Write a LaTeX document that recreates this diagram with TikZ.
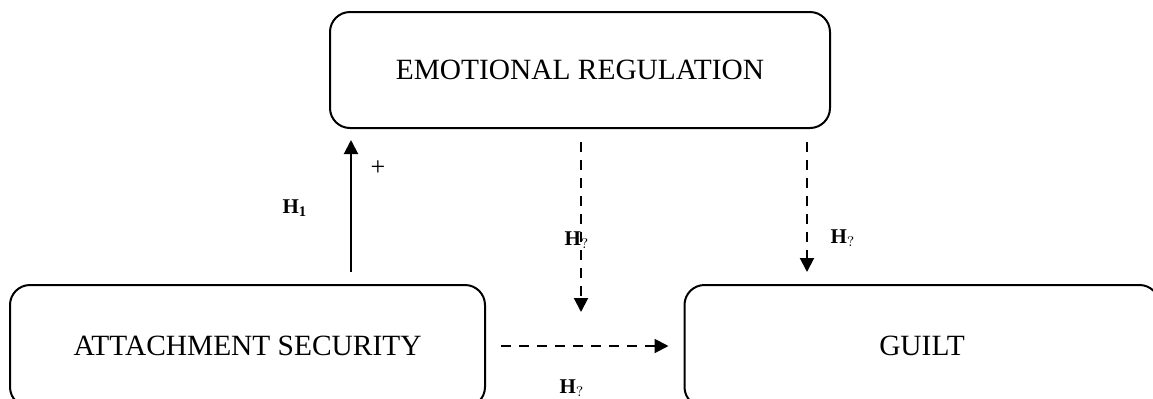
\documentclass[tikz,border=0pt]{standalone}
\usepackage{fontspec}
\setmainfont{Liberation Serif}
\usetikzlibrary{positioning,calc,arrows.meta}
\tikzset{
  modelBox/.style={
    rectangle,
    rounded corners=10pt,
    draw=black,
    line width=1pt,
    font=\fontsize{14.7}{17}\selectfont,
    align=center
  },
  solidArrow/.style={
    -{Triangle[length=7pt,width=7pt]},
    line width=1pt
  },
  dashedArrow/.style={
    -{Triangle[length=7pt,width=7pt]},
    line width=1pt,
    dash pattern=on 5pt off 4pt
  },
  hypLabel/.style={
    font=\fontsize{10.5}{12}\selectfont\bfseries
  }
}

\begin{document}
\begin{tikzpicture}[x=0.5pt,y=-0.5pt]
        \useasboundingbox (0,0) rectangle (1153,398);
        \node[modelBox, minimum width=250pt, minimum height=58pt] (emoreg) at (580,70) {EMOTIONAL REGULATION};
        \node[modelBox, minimum width=237.5pt, minimum height=61pt] (attach) at (247.5,346) {ATTACHMENT SECURITY};
        \node[modelBox, minimum width=237.5pt, minimum height=61pt] (guilt) at (922,346) {GUILT};

        % free ends of the arrows
        \coordinate (upStart) at (351,272);
        \coordinate (upEnd) at (351,140);
        \coordinate (midStart) at (581,142);
        \coordinate (midEnd) at (581,312);
        \coordinate (rightStart) at (807,142);
        \coordinate (rightEnd) at (807,272);

        \draw[solidArrow] (upStart) -- (upEnd);
        \draw[dashedArrow] (midStart) -- (midEnd);
        \draw[dashedArrow] (rightStart) -- (rightEnd);
        \draw[dashedArrow] ($(attach.east)+(15,0)$) -- ($(guilt.west)+(-15,0)$);

        \node[font=\fontsize{13}{15}\selectfont] (plus) at (378,168) {+};
        \node[hypLabel] (h1) at (295,208) {H$_{\mathbf{1}}$};
        \node[hypLabel] (h2) at (577,240) {H$_?$};
        \node[hypLabel] (h3) at (843,238) {H$_?$};
        \node[hypLabel] (h4) at (572,388) {H$_?$};
    \end{tikzpicture}
\end{document}
